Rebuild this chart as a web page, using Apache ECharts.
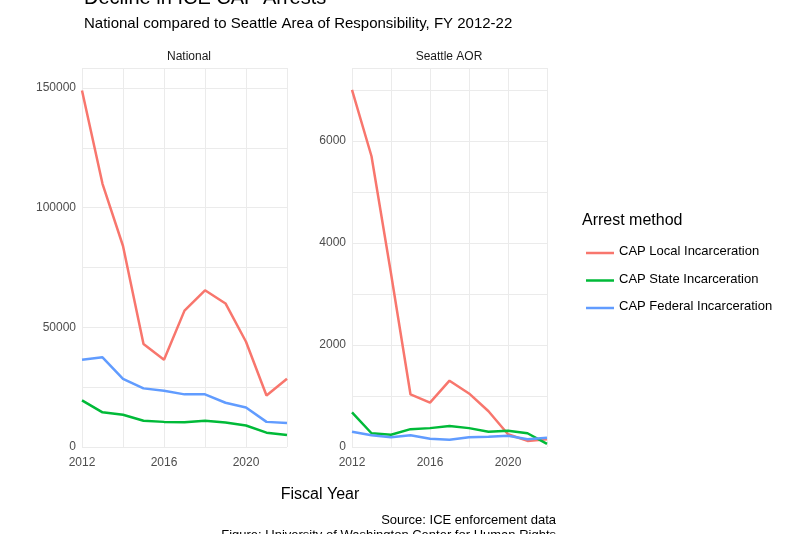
<!DOCTYPE html>
<html><head><meta charset="utf-8">
<script src="https://cdn.jsdelivr.net/npm/echarts@6/dist/echarts.min.js"></script>
<style>html,body{margin:0;background:#fff}#c{width:800px;height:534px}</style>
</head><body><div id="c"></div>
<script>
// ICE CAP arrests, national vs Seattle AOR, FY 2012-22
var YEARS = [2012,2013,2014,2015,2016,2017,2018,2019,2020,2021,2022];
var SERIES = [
  {name:'CAP Local Incarceration', color:'#F8766D',
    nat:[149000,110000,84000,43000,36500,57000,65500,60000,44000,21500,28500],
    sea:[7000,5700,3400,1030,870,1300,1050,700,250,120,150]},
  {name:'CAP State Incarceration', color:'#00BA38',
    nat:[19500,14500,13500,11000,10500,10300,11000,10200,9000,6000,5000],
    sea:[680,270,240,350,370,410,370,300,320,270,60]},
  {name:'CAP Federal Incarceration', color:'#619CFF',
    nat:[36500,37500,28500,24500,23500,22000,22000,18500,16500,10500,10000],
    sea:[300,230,190,230,160,140,190,200,220,150,180]}
];
var FONT = 'Liberation Sans';
var grid = '#ebebeb';

function xAx(i){
  return {type:'value', gridIndex:i, min:2012, max:2022, interval:2,
    axisLine:{show:false}, axisTick:{show:false},
    splitLine:{lineStyle:{color:grid}},
    axisLabel:{color:'#4d4d4d', fontSize:12, fontFamily:FONT, margin:10,
      formatter:function(v){return ((v-2012)%4===0)?String(v):'';}}};
}
function yAx(i,max,iv,lab){
  return {type:'value', gridIndex:i, min:0, max:max, interval:iv,
    axisLine:{show:false}, axisTick:{show:false},
    splitLine:{lineStyle:{color:grid}},
    axisLabel:{color:'#4d4d4d', fontSize:12, fontFamily:FONT, margin:6,
      formatter:function(v){return v%lab===0?v:'';}}};
}
var series = [];
SERIES.forEach(function(s){
  series.push({type:'line', name:s.name, xAxisIndex:0, yAxisIndex:0, showSymbol:false,
    lineStyle:{width:2.5,color:s.color}, itemStyle:{color:s.color},
    data:YEARS.map(function(y,k){return [y,s.nat[k]];})});
  series.push({type:'line', name:s.name, xAxisIndex:1, yAxisIndex:1, showSymbol:false,
    lineStyle:{width:2.5,color:s.color}, itemStyle:{color:s.color},
    data:YEARS.map(function(y,k){return [y,s.sea[k]];})});
});
var legendG = [{type:'text', left:582, top:213, style:{text:'Arrest method', fontSize:16, fontFamily:FONT, fill:'#000'}}];
SERIES.forEach(function(s,i){
  var y = 253 + i*27.5;
  legendG.push({type:'line', shape:{x1:586,y1:y,x2:614,y2:y}, style:{stroke:s.color, lineWidth:2.5}});
  legendG.push({type:'text', left:619, top:y-8, style:{text:s.name, fontSize:13, fontFamily:FONT, fill:'#000'}});
});
var chart = echarts.init(document.getElementById('c'));
chart.setOption({
  backgroundColor:'#fff', animation:false,
  grid:[{left:82, width:205, top:68, height:379},
        {left:352, width:195, top:68, height:379}],
  xAxis:[xAx(0), xAx(1)],
  yAxis:[yAx(0,158400,25000,50000), yAx(1,7430,1000,2000)],
  series:series,
  graphic:[
    {type:'text', left:84, top:-12, style:{text:'Decline in ICE CAP Arrests', fontSize:20, fontFamily:FONT, fill:'#000'}},
    {type:'text', left:84, top:16, style:{text:'National compared to Seattle Area of Responsibility, FY 2012-22', fontSize:15, fontFamily:FONT, fill:'#000'}},
    {type:'text', x:189, y:51, style:{text:'National', fontSize:12, fontFamily:FONT, fill:'#1a1a1a', align:'center'}},
    {type:'text', x:449, y:51, style:{text:'Seattle AOR', fontSize:12, fontFamily:FONT, fill:'#1a1a1a', align:'center'}},
    {type:'text', x:320, y:487, style:{text:'Fiscal Year', fontSize:16, fontFamily:FONT, fill:'#000', align:'center'}},
    {type:'text', x:556, y:514, style:{text:'Source: ICE enforcement data', fontSize:13, fontFamily:FONT, fill:'#000', align:'right'}},
    {type:'text', x:556, y:529, style:{text:'Figure: University of Washington Center for Human Rights', fontSize:13, fontFamily:FONT, fill:'#000', align:'right'}}
  ].concat(legendG)
});
</script></body></html>
